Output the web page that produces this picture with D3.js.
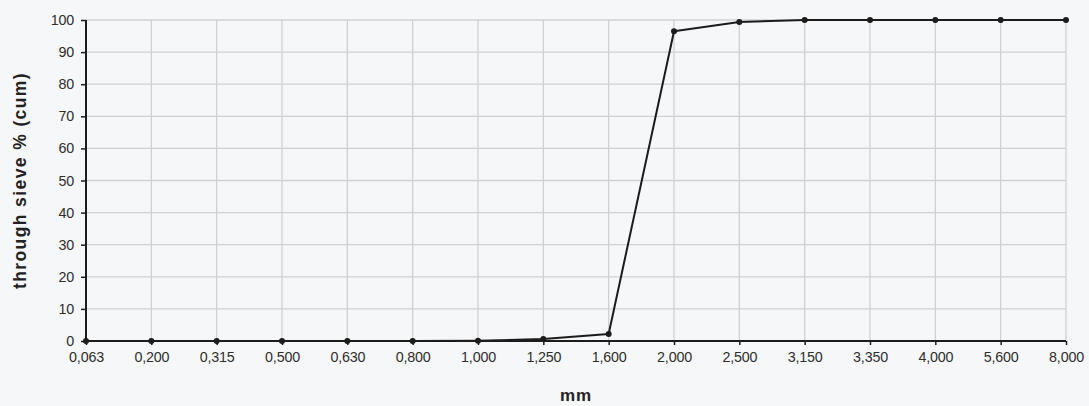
<!DOCTYPE html>
<html>
<head>
<meta charset="utf-8">
<script src="https://cdn.jsdelivr.net/npm/d3@7"></script>
<style>
  body { margin: 0; background: #f6f7f8; }
  svg { display: block; font-family: "Liberation Sans", Arial, sans-serif; }
</style>
</head>
<body>
<svg id="chart" width="1089" height="406"></svg>
<script>
// sieve sizes (mm) and cumulative % passing
const sieves = ["0,063", "0,200", "0,315", "0,500", "0,630", "0,800", "1,000", "1,250",
                "1,600", "2,000", "2,500", "3,150", "3,350", "4,000", "5,600", "8,000"];
const passing = [0, 0, 0, 0, 0, 0, 0.1, 0.6, 2.2, 96.5, 99.4, 100, 100, 100, 100, 100];
const yTicks = [0, 10, 20, 30, 40, 50, 60, 70, 80, 90, 100];

const svg = d3.select("#chart");
const margin = {left: 86, right: 23, top: 20, bottom: 65};
const width = 1089, height = 406;

let x = d3.scalePoint()
    .domain(sieves)
    .range([margin.left, width - margin.right]);

let y = d3.scaleLinear()
    .domain([0, 100])
    .range([height - margin.bottom, margin.top]);

// grid
svg.append("g")
    .selectAll("line")
    .data(yTicks.filter(d => d > 0))
    .enter()
    .append("line")
    .attr("x1", margin.left)
    .attr("x2", width - margin.right)
    .attr("y1", d => y(d))
    .attr("y2", d => y(d))
    .attr("stroke", "#cfd2d4")
    .attr("stroke-width", 1.3);

svg.append("g")
    .selectAll("line")
    .data(sieves.slice(1))
    .enter()
    .append("line")
    .attr("x1", d => x(d))
    .attr("x2", d => x(d))
    .attr("y1", margin.top)
    .attr("y2", height - margin.bottom)
    .attr("stroke", "#cfd2d4")
    .attr("stroke-width", 1.3);

// axes
let xAxis = svg.append("g")
    .attr("transform", `translate(0,${height - margin.bottom})`)
    .call(d3.axisBottom(x).tickSize(4).tickPadding(7));
let yAxis = svg.append("g")
    .attr("transform", `translate(${margin.left},0)`)
    .call(d3.axisLeft(y).tickValues(yTicks).tickSize(5).tickPadding(7));

[xAxis, yAxis].forEach(a => {
    a.select(".domain").attr("stroke", "#1c1c1c").attr("stroke-width", 2);
    a.selectAll(".tick line").attr("stroke", "#1c1c1c").attr("stroke-width", 1.5);
    a.selectAll("text")
        .attr("fill", "#2e2e2e")
        .style("font-size", "14.3px")
        .style("letter-spacing", "-0.2px");
});
xAxis.selectAll(".domain").attr("d", `M${margin.left},0H${width - margin.right}`);
yAxis.selectAll(".domain").attr("d", `M0,${y(0)}V${y(100)}`);

// data line
let line = d3.line()
    .x((d, i) => x(sieves[i]))
    .y(d => y(d));

svg.append("path")
    .datum(passing)
    .attr("fill", "none")
    .attr("stroke", "#1c1c1c")
    .attr("stroke-width", 2)
    .attr("stroke-linejoin", "round")
    .attr("d", line);

svg.append("g")
    .selectAll("circle")
    .data(passing)
    .enter()
    .append("circle")
    .attr("cx", (d, i) => x(sieves[i]))
    .attr("cy", d => y(d))
    .attr("r", 3)
    .attr("fill", "#1c1c1c");

// titles
svg.append("text")
    .attr("x", (margin.left + width - margin.right) / 2)
    .attr("y", 401)
    .style("text-anchor", "middle")
    .attr("font-weight", 700)
    .style("font-size", "17px")
    .style("letter-spacing", "1px")
    .attr("fill", "#222")
    .text("mm");

svg.append("text")
    .attr("transform", `translate(26,${(margin.top + height - margin.bottom) / 2}) rotate(-90)`)
    .style("text-anchor", "middle")
    .attr("font-weight", 700)
    .style("font-size", "17.5px")
    .style("letter-spacing", "1.4px")
    .attr("fill", "#222")
    .text("through sieve % (cum)");
</script>
</body>
</html>
